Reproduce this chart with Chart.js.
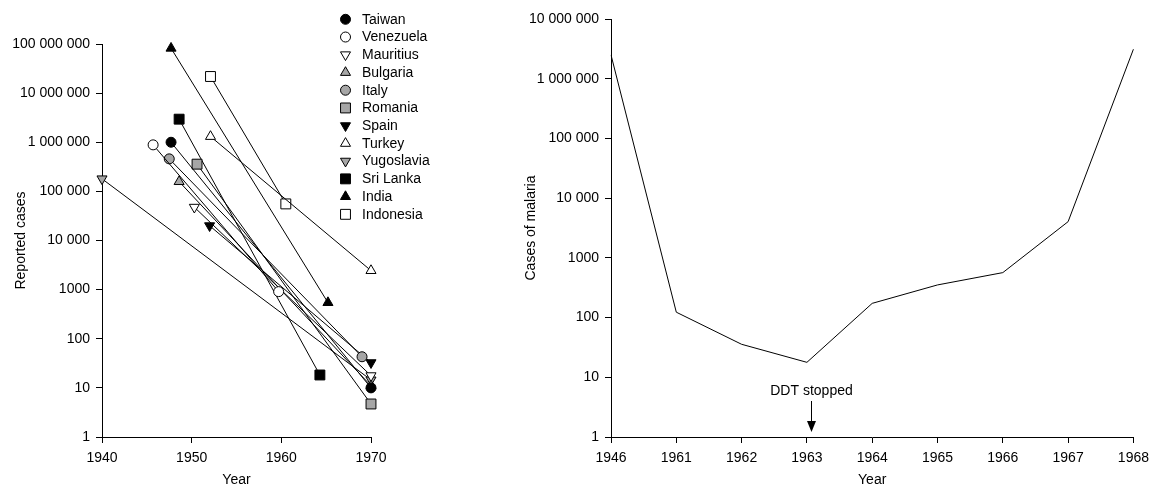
<!DOCTYPE html>
<html>
<head>
<meta charset="utf-8">
<script src="https://cdn.jsdelivr.net/npm/chart.js@4.4.1/dist/chart.umd.min.js"></script>
<style>
  html, body { margin: 0; padding: 0; background: #fff; }
  body { width: 1156px; height: 487px; position: relative; overflow: hidden; }
  .box { position: absolute; top: 0; height: 487px; }
  #leftBox { left: 0; width: 480px; }
  #rightBox { left: 510px; width: 646px; }
</style>
</head>
<body>
<div id="leftBox" class="box"><canvas id="left"></canvas></div>
<div id="rightBox" class="box"><canvas id="right"></canvas></div>
<script>
// ---------- Left chart data ----------
const countries   = ['Taiwan','Venezuela','Mauritius','Bulgaria','Italy','Romania','Spain','Turkey','Yugoslavia','Sri Lanka','India','Indonesia'];
const startYears  = [1947.7, 1945.7, 1950.3, 1948.6, 1947.5, 1950.6, 1952.0, 1952.1, 1940.0, 1948.6, 1947.7, 1952.1];
const startCases  = [1000000, 885000, 47600, 158000, 459000, 358000, 20000, 1310000, 180000, 2950000, 82000000, 21800000];
const endYears    = [1970, 1959.7, 1970, 1970, 1969, 1970, 1970, 1970, 1970, 1964.3, 1965.2, 1960.5];
const endCases    = [10, 910, 17.7, 11, 43, 4.7, 32.6, 2440, 14.5, 18.3, 544, 55600];
const markerShape = ['circle','circle','triangle','triangle','circle','rect','triangle','triangle','triangle','rect','triangle','rect'];
const markerDown  = [false,false,true,false,false,false,true,false,true,false,false,false];
const markerFill  = ['black','white','white','grey','grey','grey','black','white','grey','black','black','white'];
const leftXTicks  = [1940, 1950, 1960, 1970];
const leftYTicks  = [1, 10, 100, 1000, 10000, 100000, 1000000, 10000000, 100000000];
const leftYLabels = ['1','10','100','1000','10 000','100 000','1 000 000','10 000 000','100 000 000'];

// ---------- Right chart data ----------
const malariaYears = ['1946','1961','1962','1963','1964','1965','1966','1967','1968'];
const malariaCases = [2500000, 123, 35.7, 17.8, 173, 352, 566, 4040, 3120000];
const rightYTicks  = [1, 10, 100, 1000, 10000, 100000, 1000000, 10000000];
const rightYLabels = ['1','10','100','1000','10 000','100 000','1 000 000','10 000 000'];
const annotationYear = '1963';
const annotationText = 'DDT stopped';

// ---------- Styling ----------
const FILL = { black: '#000000', white: '#ffffff', grey: '#a6a6a6' };
const FONT = "'Liberation Sans', Arial, Helvetica, sans-serif";
Chart.defaults.font.family = FONT;
Chart.defaults.font.size = 14;
Chart.defaults.color = '#000';
Chart.defaults.animation = false;

function radiusFor(shape) {
  if (shape === 'rect') return 7;
  if (shape === 'triangle') return 5.8;
  return 5;
}

function axisCommon() {
  return {
    grid: { display: true, drawOnChartArea: false, drawTicks: true, tickLength: 6, color: '#000', tickColor: '#000', lineWidth: 1 },
    border: { display: true, color: '#000', width: 1 },
  };
}

const leftDatasets = countries.map((c, i) => ({
  label: c,
  data: [{ x: startYears[i], y: startCases[i] }, { x: endYears[i], y: endCases[i] }],
  showLine: true,
  clip: false,
  borderColor: '#000',
  borderWidth: 1,
  pointStyle: markerShape[i],
  pointRotation: markerDown[i] ? 180 : 0,
  pointRadius: radiusFor(markerShape[i]),
  pointHoverRadius: radiusFor(markerShape[i]),
  pointBackgroundColor: FILL[markerFill[i]],
  pointBorderColor: '#000',
  pointBorderWidth: 1,
}));

const legendPlugin = {
  id: 'customLegend',
  afterDraw(chart) {
    const ctx = chart.ctx;
    const x0 = 345.5, y0 = 19.3, dy = 17.73, tx = 362;
    ctx.save();
    countries.forEach((c, i) => {
      const y = y0 + i * dy;
      ctx.fillStyle = FILL[markerFill[i]];
      ctx.strokeStyle = '#000';
      ctx.lineWidth = 1;
      Chart.helpers.drawPoint(ctx, {
        pointStyle: markerShape[i],
        radius: radiusFor(markerShape[i]),
        rotation: markerDown[i] ? 180 : 0,
        borderWidth: 1
      }, x0, y);
      ctx.fillStyle = '#000';
      ctx.font = '14px ' + FONT;
      ctx.textAlign = 'left';
      ctx.textBaseline = 'middle';
      ctx.fillText(c, tx, y + 0.5);
    });
    ctx.restore();
  }
};

new Chart(document.getElementById('left'), {
  type: 'scatter',
  data: { datasets: leftDatasets },
  options: {
    responsive: true,
    maintainAspectRatio: false,
    layout: { padding: { left: 0, right: 109, top: 44, bottom: 0 } },
    plugins: { legend: { display: false }, tooltip: { enabled: false } },
    scales: {
      x: Object.assign(axisCommon(), {
        type: 'linear', min: 1940, max: 1970,
        afterBuildTicks: s => { s.ticks = leftXTicks.map(v => ({ value: v })); },
        afterFit: s => { s.height = 50; },
        ticks: { padding: 7, callback: v => String(v), maxRotation: 0 },
        title: { display: true, text: 'Year', padding: { top: 0, bottom: -2 } }
      }),
      y: Object.assign(axisCommon(), {
        type: 'logarithmic', min: 1, max: 100000000,
        afterBuildTicks: s => { s.ticks = leftYTicks.map(v => ({ value: v })); },
        afterFit: s => { s.width = 102; },
        ticks: { padding: 6, callback: (v, i) => leftYLabels[i] },
        title: { display: true, text: 'Reported cases', padding: { top: 13, bottom: 4 } }
      })
    }
  },
  plugins: [legendPlugin]
});

const annotationPlugin = {
  id: 'ddtAnnotation',
  afterDraw(chart) {
    const ctx = chart.ctx;
    const xs = chart.scales.x;
    const idx = malariaYears.indexOf(annotationYear);
    const x = Math.round(xs.getPixelForValue(idx)) + 4.5;
    const bottom = chart.chartArea.bottom;
    ctx.save();
    ctx.fillStyle = '#000';
    ctx.strokeStyle = '#000';
    ctx.lineWidth = 1;
    ctx.font = '14px ' + FONT;
    ctx.textAlign = 'center';
    ctx.textBaseline = 'middle';
    ctx.fillText(annotationText, x, bottom - 46);
    ctx.beginPath();
    ctx.moveTo(x, bottom - 36);
    ctx.lineTo(x, bottom - 15);
    ctx.stroke();
    ctx.beginPath();
    ctx.moveTo(x - 4.5, bottom - 16);
    ctx.lineTo(x + 4.5, bottom - 16);
    ctx.lineTo(x, bottom - 5);
    ctx.closePath();
    ctx.fill();
    ctx.restore();
  }
};

new Chart(document.getElementById('right'), {
  type: 'line',
  data: {
    labels: malariaYears,
    datasets: [{
      label: 'Cases of malaria',
      data: malariaCases,
      borderColor: '#000',
      borderWidth: 1,
      pointRadius: 0,
      pointHoverRadius: 0,
      fill: false,
      tension: 0
    }]
  },
  options: {
    responsive: true,
    maintainAspectRatio: false,
    layout: { padding: { left: 0, right: 22, top: 19, bottom: 0 } },
    plugins: { legend: { display: false }, tooltip: { enabled: false } },
    scales: {
      x: Object.assign(axisCommon(), {
        type: 'category', offset: false,
        afterFit: s => { s.height = 50; },
        ticks: { padding: 7, maxRotation: 0, autoSkip: false },
        title: { display: true, text: 'Year', padding: { top: 0, bottom: -2 } }
      }),
      y: Object.assign(axisCommon(), {
        type: 'logarithmic', min: 1, max: 10000000,
        afterBuildTicks: s => { s.ticks = rightYTicks.map(v => ({ value: v })); },
        afterFit: s => { s.width = 101; },
        ticks: { padding: 6, callback: (v, i) => rightYLabels[i] },
        title: { display: true, text: 'Cases of malaria', padding: { top: 13, bottom: 4 } }
      })
    }
  },
  plugins: [annotationPlugin]
});
</script>
</body>
</html>
